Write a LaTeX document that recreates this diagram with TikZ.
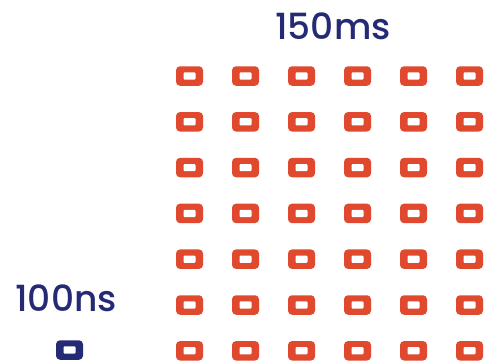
\documentclass[tikz,border=0pt]{standalone}
\usepackage{fontspec}
\setmainfont{Poppins}[UprightFont=* Medium]
\usetikzlibrary{positioning}

\definecolor{cellred}{HTML}{E1492F}
\definecolor{inknavy}{HTML}{242A74}

\begin{document}
\begin{tikzpicture}[
    x=1pt, y=-1pt,
    cell/.style={fill=cellred, rounded corners=4pt,
        minimum width=27pt, minimum height=19.5pt, inner sep=0pt,
        path picture={\fill[white, rounded corners=1pt]
            ([shift={(-6pt,-3.6pt)}]path picture bounding box.center) rectangle
            ([shift={(6pt,3.6pt)}]path picture bounding box.center);}},
    dot/.style={cell, fill=inknavy},
    hand/.style={text=inknavy, inner sep=0pt, font=\fontsize{36}{40}\selectfont}
]
\useasboundingbox (0,0) rectangle (485,362);

% Grid of 150ms cells
\foreach \r in {0,...,6} {
  \foreach \c in {0,...,5} {
    \node[cell] (cell-\r-\c) at (189.5+56*\c, 76+45.8*\r) {};
  }
}

% Single 100ns cell
\node[dot] (single) at (69.5,350) {};

% Labels
\node[hand] (slow) at (333,26) {150ms};
\node[hand] (fast) at (66,298) {100ns};

\end{tikzpicture}
\end{document}
